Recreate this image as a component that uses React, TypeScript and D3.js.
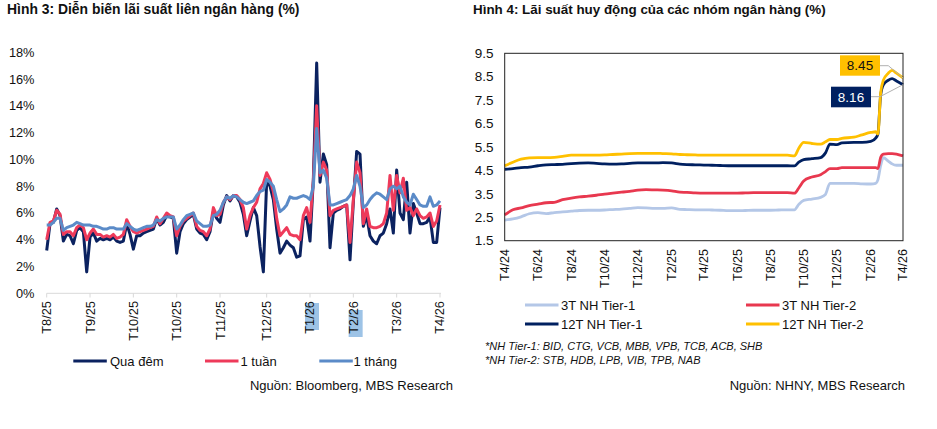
import React from "react";
import * as d3 from "d3";

// ---------- Chart 3: interbank rates (%) ----------
const overnight = [
  3.2, 5.2, 5.3, 6.3, 5.8, 3.9, 4.4, 4.3, 3.7, 4.7, 4.9, 4.6, 1.6, 4.2, 4.5, 3.9, 4.1, 4.0, 4.1, 4.0,
  4.2, 3.9, 3.8, 3.9, 5.2, 4.4, 3.3, 4.3, 4.3, 4.5, 4.6, 4.7, 4.8, 5.6, 5.1, 5.3, 5.8, 5.7, 5.6, 3.0,
  4.6, 5.2, 5.5, 5.7, 5.9, 4.8, 4.5, 4.4, 4.0, 4.6, 6.1, 5.6, 5.3, 6.6, 7.3, 6.9, 7.3, 7.2, 6.8, 5.9,
  4.3, 5.4, 6.4, 5.8, 3.5, 1.6, 8.4, 8.0, 7.0, 4.8, 3.0, 3.4, 3.9, 3.6, 3.4, 2.7, 2.8, 5.5, 5.7, 3.9,
  8.5, 17.2, 8.3, 10.4, 9.6, 3.4, 6.0, 6.2, 6.3, 6.5, 6.6, 2.5, 6.8, 10.6, 10.4, 5.0, 5.8, 4.3, 3.9, 3.7,
  4.3, 4.5, 5.2, 6.3, 4.5, 9.2, 6.0, 5.5, 8.3, 4.5, 6.7, 6.0, 5.2, 5.2, 5.3, 5.7, 3.8, 3.8, 6.4,
];
const oneWeek = [
  4.0, 5.3, 5.4, 6.2, 5.9, 4.4, 4.6, 4.6, 4.3, 4.9, 5.1, 4.9, 4.0, 4.5, 4.8, 4.4, 4.4, 4.2, 4.3, 4.2,
  4.4, 4.1, 4.2, 4.4, 5.5, 5.0, 4.6, 4.5, 4.6, 4.7, 4.8, 4.9, 5.0, 5.7, 5.2, 5.6, 6.0, 5.8, 5.7, 4.3,
  5.0, 5.4, 5.6, 5.8, 6.0, 5.0, 4.7, 4.6, 4.3, 4.8, 6.4, 5.8, 5.9, 6.8, 7.2, 7.0, 7.3, 7.3, 7.0, 6.4,
  4.8, 5.8, 6.4, 6.8, 7.8, 8.2, 9.0, 8.5, 7.6, 5.6, 4.3, 4.6, 4.9, 4.4, 4.3, 4.3, 4.0, 5.8, 6.4, 5.3,
  8.4, 14.0, 8.8, 9.8, 9.2, 5.8, 6.2, 6.3, 6.4, 6.5, 6.6, 3.8, 7.0, 9.8, 9.0, 5.2, 6.3, 5.0, 4.9, 4.9,
  5.0, 5.2, 6.0, 8.8, 6.2, 8.8, 7.5, 8.6, 6.2, 6.4, 5.8, 6.3, 5.8, 5.6, 5.7, 6.0, 5.0, 5.4, 6.6,
];
const oneMonth = [
  5.1, 5.1, 5.3, 5.6, 5.6, 4.7, 4.9, 5.0, 5.1, 5.3, 5.2, 5.1, 5.1, 5.1, 5.0, 5.0, 4.9, 4.8, 4.8, 4.9,
  4.9, 4.8, 4.8, 4.8, 5.2, 5.0, 4.8, 4.7, 4.8, 4.9, 5.0, 5.0, 5.1, 5.5, 5.4, 5.6, 5.7, 5.7, 5.7, 4.8,
  5.1, 5.5, 5.8, 5.9, 6.0, 5.4, 5.2, 5.0, 5.0, 5.1, 5.8, 5.9, 6.2, 6.8, 7.2, 7.1, 7.3, 7.2, 7.0, 6.8,
  6.7, 6.8, 6.9, 7.3, 7.6, 7.7, 8.5, 8.3, 8.0, 7.0, 6.1, 6.3, 6.6, 7.2, 7.1, 7.1, 7.2, 7.3, 7.2, 7.0,
  8.0, 12.3, 9.0, 9.2, 8.6, 6.6, 6.6, 6.7, 6.8, 6.9, 7.0, 7.3, 7.8, 8.8, 8.0, 6.4, 6.6, 7.0, 7.3, 7.5,
  7.4, 7.2, 7.0, 7.8, 8.0, 7.8, 8.0, 7.2, 6.8, 6.6, 7.4, 7.0, 6.6, 6.5, 6.5, 7.2, 6.5, 6.6, 6.9,
];
const interbankTickIndex = [0, 13, 26, 39, 52, 66, 79, 92, 105, 118];
const interbankTickLabels = ["T8/25", "T9/25", "T10/25", "T10/25", "T11/25", "T12/25", "T1/26", "T2/26", "T3/26", "T4/26"];
const interbankYTicks = [0, 2, 4, 6, 8, 10, 12, 14, 16, 18];
const interbankSeriesNames = ["Qua đêm", "1 tuần", "1 tháng"];

// ---------- Chart 4: deposit rates by bank group (%) ----------
const depositDates = [
  "2024-04-01", "2024-04-16", "2024-05-01", "2024-05-16", "2024-06-01", "2024-06-16", "2024-07-01", "2024-07-16",
  "2024-08-01", "2024-08-16", "2024-09-01", "2024-09-16", "2024-10-01", "2024-10-16", "2024-11-01", "2024-11-16",
  "2024-12-01", "2024-12-16", "2025-01-01", "2025-01-16", "2025-02-01", "2025-02-16", "2025-03-01", "2025-03-16",
  "2025-04-01", "2025-04-16", "2025-05-01", "2025-05-16", "2025-06-01", "2025-06-16", "2025-07-01", "2025-07-16",
  "2025-08-01", "2025-08-16", "2025-09-01", "2025-09-14", "2025-09-22", "2025-10-01", "2025-10-16", "2025-11-01",
  "2025-11-10", "2025-11-18", "2025-12-01", "2025-12-10", "2026-01-01", "2026-01-16", "2026-02-01", "2026-02-10",
  "2026-02-14", "2026-02-19", "2026-02-24", "2026-03-05", "2026-03-12", "2026-03-20", "2026-04-01",
];
const tier1_3m = [
  2.38, 2.43, 2.52, 2.65, 2.70, 2.66, 2.70, 2.73, 2.76, 2.79, 2.80, 2.80, 2.81, 2.83, 2.85, 2.88,
  2.91, 2.90, 2.88, 2.88, 2.90, 2.84, 2.83, 2.82, 2.82, 2.81, 2.80, 2.78, 2.78, 2.79, 2.80, 2.80,
  2.80, 2.81, 2.82, 2.82, 3.05, 3.22, 3.28, 3.35, 3.48, 3.95, 3.95, 3.95, 3.95, 3.93, 3.92, 3.95,
  4.10, 4.70, 5.05, 4.90, 4.78, 4.72, 4.72,
];
const tier2_3m = [
  2.60, 2.82, 2.90, 3.00, 3.06, 3.12, 3.14, 3.25, 3.32, 3.37, 3.40, 3.44, 3.49, 3.53, 3.57, 3.61,
  3.66, 3.68, 3.67, 3.66, 3.63, 3.57, 3.56, 3.54, 3.53, 3.53, 3.53, 3.53, 3.53, 3.54, 3.55, 3.55,
  3.55, 3.55, 3.55, 3.53, 3.75, 4.05, 4.22, 4.32, 4.45, 4.58, 4.58, 4.62, 4.62, 4.62, 4.62, 4.62,
  4.58, 5.05, 5.20, 5.22, 5.22, 5.20, 5.12,
];
const tier1_12m = [
  4.55, 4.58, 4.62, 4.64, 4.70, 4.74, 4.75, 4.76, 4.79, 4.81, 4.82, 4.80, 4.78, 4.77, 4.78, 4.80,
  4.82, 4.82, 4.82, 4.83, 4.82, 4.77, 4.75, 4.74, 4.73, 4.72, 4.71, 4.70, 4.70, 4.70, 4.70, 4.70,
  4.70, 4.70, 4.70, 4.69, 4.85, 4.96, 5.00, 5.05, 5.25, 5.62, 5.60, 5.68, 5.70, 5.70, 5.74, 5.88,
  6.05, 7.70, 8.15, 8.35, 8.42, 8.32, 8.16,
];
const tier2_12m = [
  4.70, 4.85, 4.98, 5.04, 5.05, 5.05, 5.06, 5.10, 5.15, 5.15, 5.15, 5.15, 5.16, 5.18, 5.20, 5.22,
  5.23, 5.23, 5.23, 5.22, 5.21, 5.18, 5.17, 5.16, 5.15, 5.15, 5.15, 5.15, 5.15, 5.15, 5.15, 5.15,
  5.15, 5.15, 5.15, 5.12, 5.45, 5.70, 5.65, 5.62, 5.72, 5.82, 5.82, 5.87, 5.92, 6.02, 6.12, 6.15,
  6.05, 7.80, 8.35, 8.65, 8.77, 8.65, 8.45,
];
const depositSeriesNames = ["3T NH Tier-1", "3T NH Tier-2", "12T NH Tier-1", "12T NH Tier-2"];
const depositYTicks = [1.5, 2.5, 3.5, 4.5, 5.5, 6.5, 7.5, 8.5, 9.5];
const depositTickDates = [
  "2024-04-01", "2024-06-01", "2024-08-01", "2024-10-01", "2024-12-01", "2025-02-01", "2025-04-01",
  "2025-06-01", "2025-08-01", "2025-10-01", "2025-12-01", "2026-02-01", "2026-04-01",
];

const FONT = "'Liberation Sans', Arial, sans-serif";

export default function App() {
  // ----- left chart -----
  const xL = d3.scaleLinear().domain([0, overnight.length - 1]).range([46.7, 440]);
  const yL = d3.scaleLinear().domain([0, 18]).range([293.3, 52.3]);
  const lineL = d3
    .line<number>()
    .x((_, i) => xL(i))
    .y((d) => yL(d))
    .curve(d3.curveLinear);
  const leftSeries = [
    { name: interbankSeriesNames[0], data: overnight, color: "#0B2260" },
    { name: interbankSeriesNames[1], data: oneWeek, color: "#EE3A5A" },
    { name: interbankSeriesNames[2], data: oneMonth, color: "#5B8BC8" },
  ];

  // ----- right chart -----
  const parse = d3.timeParse("%Y-%m-%d");
  const dates = depositDates.map((s) => parse(s) as Date);
  const xR = d3.scaleTime().domain([parse("2024-04-01") as Date, parse("2026-04-01") as Date]).range([504.7, 903]);
  const yR = d3.scaleLinear().domain([1.5, 9.5]).range([240.7, 53.3]);
  const lineR = d3
    .line<number>()
    .x((_, i) => xR(dates[i]))
    .y((d) => yR(d))
    .curve(d3.curveMonotoneX);
  const rightSeries = [
    { name: depositSeriesNames[0], data: tier1_3m, color: "#B4C7E7" },
    { name: depositSeriesNames[1], data: tier2_3m, color: "#E8384F" },
    { name: depositSeriesNames[2], data: tier1_12m, color: "#002060" },
    { name: depositSeriesNames[3], data: tier2_12m, color: "#FFC000" },
  ];
  const fmtTick = (s: string) => {
    const d = parse(s) as Date;
    return `T${d.getMonth() + 1}/${String(d.getFullYear()).slice(2)}`;
  };
  const last12T1 = tier1_12m[tier1_12m.length - 1];
  const last12T2 = tier2_12m[tier2_12m.length - 1];
  const lastX = xR(dates[dates.length - 1]);

  return (
    <svg
      width={937}
      height={429}
      style={{ position: "absolute", left: 0, top: 0, background: "#fff" }}
      fontFamily={FONT}
    >
      {/* ===== Left chart ===== */}
      <text x={7} y={13.5} fontSize={13.9} fontWeight="bold" fill="#111">
        Hình 3: Diễn biến lãi suất liên ngân hàng (%)
      </text>
      {interbankYTicks.map((v) => (
        <text key={v} x={34.5} y={yL(v)} dy="0.35em" textAnchor="end" fontSize={12.8} fill="#111">
          {`${v}%`}
        </text>
      ))}
      <line x1={46.7} x2={441} y1={293.3} y2={293.3} stroke="#d9d9d9" strokeWidth={1} />
      {interbankTickIndex.map((ix) => (
        <line key={ix} x1={xL(ix)} x2={xL(ix)} y1={293.3} y2={297.5} stroke="#d9d9d9" strokeWidth={1} />
      ))}
      {/* highlight marks behind T1/26 and T2/26 */}
      <rect x={xL(interbankTickIndex[6]) - 5} y={303} width={14} height={27} fill="#9DC3E6" />
      <rect x={xL(interbankTickIndex[7]) - 4.7} y={310} width={14} height={27} fill="#9DC3E6" />
      {interbankTickIndex.map((ix, k) => (
        <text
          key={k}
          transform={`translate(${xL(ix)},301) rotate(-90)`}
          dy="0.35em"
          textAnchor="end"
          fontSize={12.8}
          fill="#111"
        >
          {interbankTickLabels[k]}
        </text>
      ))}
      {leftSeries.map((s) => (
        <path key={s.name} d={lineL(s.data) || ""} fill="none" stroke={s.color} strokeWidth={3} strokeLinejoin="round" />
      ))}
      {/* legend */}
      {[
        { x: 73.3, tx: 110 },
        { x: 205, tx: 240.5 },
        { x: 319.3, tx: 353.5 },
      ].map((p, k) => (
        <g key={k}>
          <line x1={p.x} x2={p.x + 33.5} y1={361} y2={361} stroke={leftSeries[k].color} strokeWidth={3} />
          <text x={p.tx} y={361} dy="0.35em" fontSize={13} fill="#111">
            {leftSeries[k].name}
          </text>
        </g>
      ))}
      <text x={453} y={390} textAnchor="end" fontSize={13} fill="#111">
        Nguồn: Bloomberg, MBS Research
      </text>

      {/* ===== Right chart ===== */}
      <text x={473} y={13.5} fontSize={13.4} fontWeight="bold" fill="#111">
        Hình 4: Lãi suất huy động của các nhóm ngân hàng (%)
      </text>
      {depositYTicks.map((v) => (
        <text key={v} x={493.5} y={yR(v)} dy="0.35em" textAnchor="end" fontSize={13.5} fill="#111">
          {v.toFixed(1)}
        </text>
      ))}
      {depositTickDates.map((s) => (
        <text
          key={s}
          transform={`translate(${xR(parse(s) as Date)},249) rotate(-90)`}
          dy="0.35em"
          textAnchor="end"
          fontSize={12.5}
          fill="#111"
        >
          {fmtTick(s)}
        </text>
      ))}
      {rightSeries.map((s) => (
        <path key={s.name} d={lineR(s.data) || ""} fill="none" stroke={s.color} strokeWidth={2.8} strokeLinejoin="round" />
      ))}
      <rect x={504.7} y={53.3} width={903 - 504.7} height={240.7 - 53.3} fill="none" stroke="#222" strokeWidth={1} />
      {/* annotations */}
      <polyline
        points={`880,65.7 888.3,65.7 ${lastX},${yR(last12T2)}`}
        fill="none"
        stroke="#b0b0b0"
        strokeWidth={1}
      />
      <polyline
        points={`871,96.7 880,96.7 ${lastX},${yR(last12T1)}`}
        fill="none"
        stroke="#b0b0b0"
        strokeWidth={1}
      />
      <rect x={840} y={55.3} width={40} height={20.4} fill="#FFC000" />
      <text x={860} y={65.5} dy="0.35em" textAnchor="middle" fontSize={13.5} fill="#111">
        {last12T2.toFixed(2)}
      </text>
      <rect x={831} y={86.7} width={40} height={20.6} fill="#002060" />
      <text x={851} y={97} dy="0.35em" textAnchor="middle" fontSize={13.5} fill="#fff">
        {last12T1.toFixed(2)}
      </text>
      {/* legend */}
      {[
        { x: 525, y: 305 },
        { x: 746, y: 305 },
        { x: 525, y: 324 },
        { x: 746, y: 324 },
      ].map((p, k) => (
        <g key={k}>
          <line x1={p.x} x2={p.x + 33.5} y1={p.y} y2={p.y} stroke={rightSeries[k].color} strokeWidth={3} />
          <text x={p.x + 36} y={p.y} dy="0.35em" fontSize={13} fill="#111">
            {rightSeries[k].name}
          </text>
        </g>
      ))}
      <text x={485} y={349.5} fontSize={11} fontStyle="italic" fill="#111">
        *NH Tier-1: BID, CTG, VCB, MBB, VPB, TCB, ACB, SHB
      </text>
      <text x={485} y={364} fontSize={11} fontStyle="italic" fill="#111">
        *NH Tier-2: STB, HDB, LPB, VIB, TPB, NAB
      </text>
      <text x={905} y={390} textAnchor="end" fontSize={13} fill="#111">
        Nguồn: NHNY, MBS Research
      </text>
    </svg>
  );
}
